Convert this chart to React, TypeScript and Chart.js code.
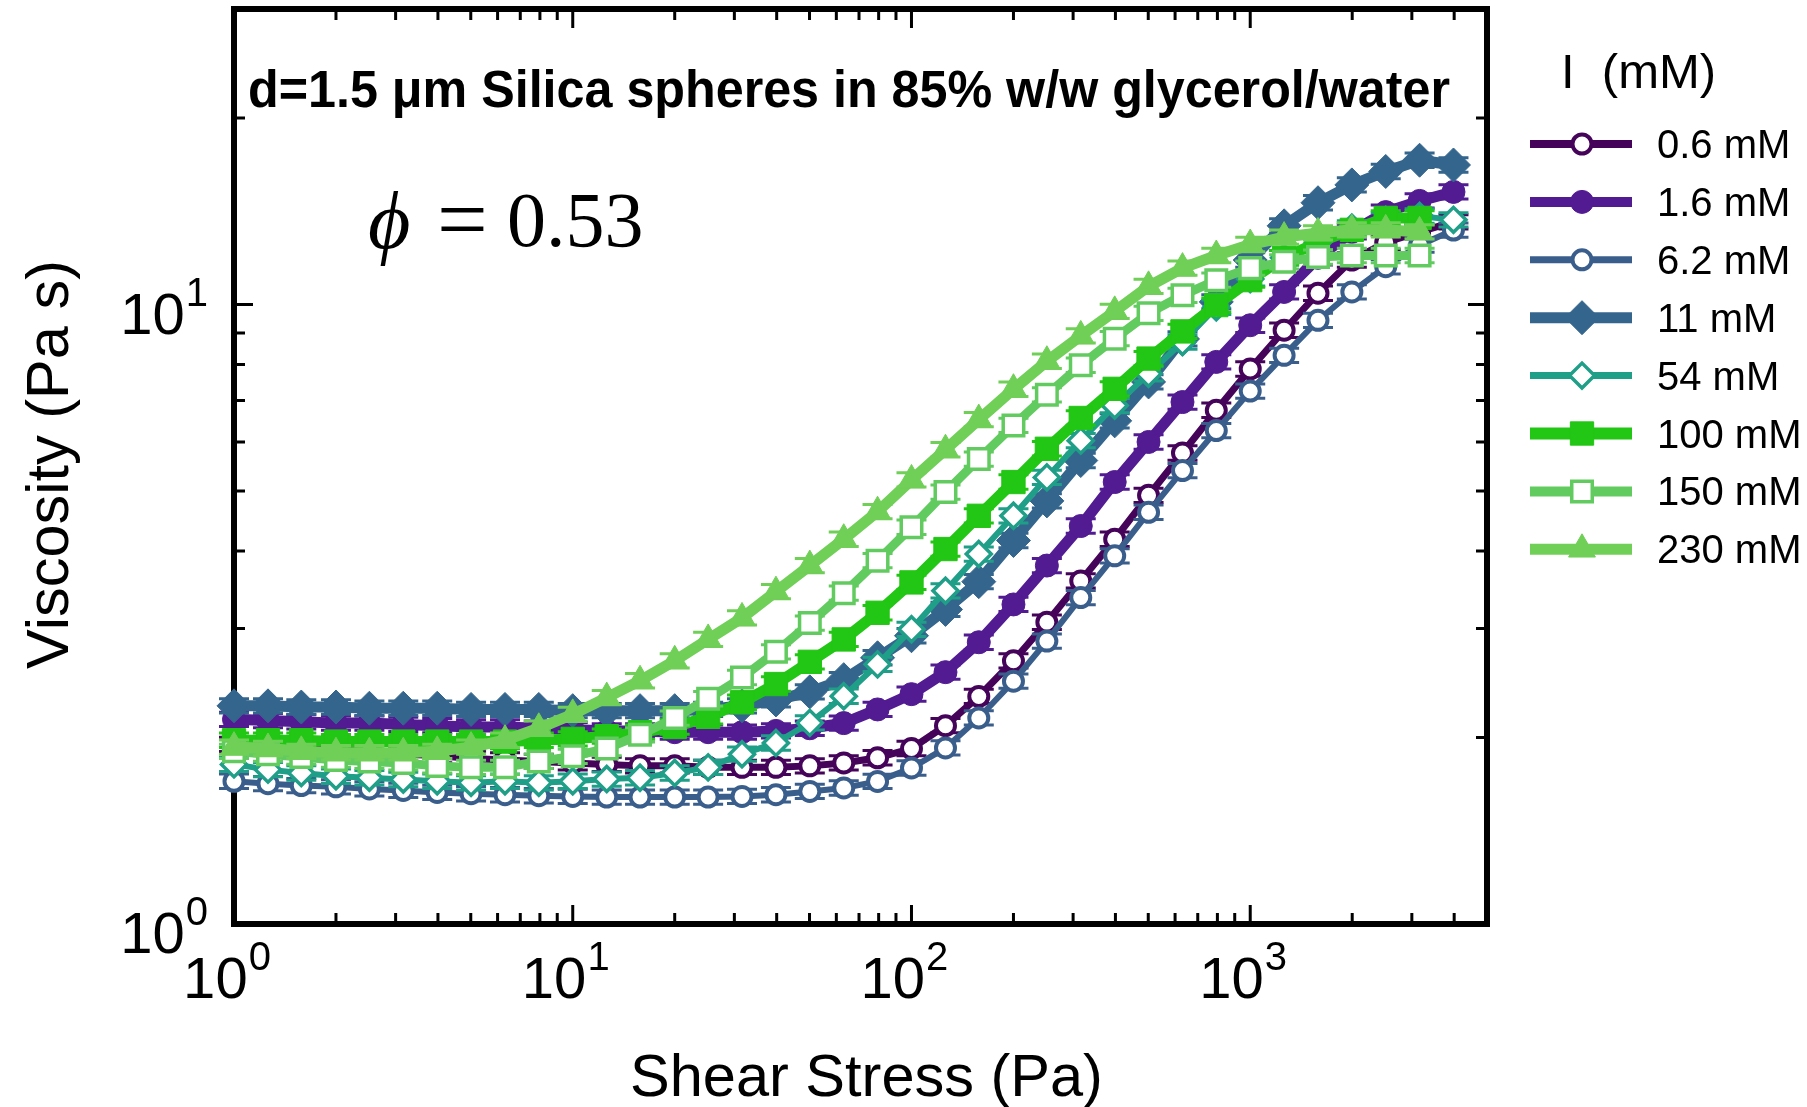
import React, { useEffect, useRef } from 'react';
import { Chart, registerables } from 'chart.js';

Chart.register(...registerables);

// ---------- data ----------
const STRESS_PA = [
  1.0, 1.26, 1.58, 2.0, 2.51, 3.16, 3.98, 5.01, 6.31, 7.94,
  10.0, 12.6, 15.8, 20.0, 25.1, 31.6, 39.8, 50.1, 63.1, 79.4,
  100, 126, 158, 200, 251, 316, 398, 501, 631, 794,
  1000, 1259, 1585, 1995, 2512, 3162, 3981,
];

const ETA_0_6 = [
  1.95, 1.94, 1.93, 1.91, 1.9, 1.88, 1.87, 1.85, 1.84, 1.83,
  1.82, 1.81, 1.8, 1.8, 1.79, 1.79, 1.79, 1.8, 1.82, 1.855,
  1.92, 2.09, 2.33, 2.66, 3.07, 3.58, 4.18, 4.92, 5.76, 6.75,
  7.87, 9.09, 10.43, 11.8, 12.6, 13.1, 13.6,
];
const ETA_1_6 = [
  2.14, 2.13, 2.12, 2.11, 2.11, 2.1, 2.09, 2.08, 2.08, 2.07,
  2.06, 2.05, 2.05, 2.04, 2.04, 2.04, 2.05, 2.07, 2.11, 2.22,
  2.35, 2.55, 2.85, 3.28, 3.79, 4.39, 5.17, 6.0, 6.96, 8.08,
  9.26, 10.48, 11.9, 13.1, 14.1, 14.7, 15.2,
];
const ETA_6_2 = [
  1.7, 1.685, 1.673, 1.665, 1.652, 1.643, 1.631, 1.623, 1.617, 1.611,
  1.607, 1.603, 1.603, 1.603, 1.603, 1.607, 1.617, 1.637, 1.658, 1.699,
  1.786, 1.924, 2.151, 2.466, 2.862, 3.365, 3.929, 4.62, 5.395, 6.26,
  7.25, 8.28, 9.43, 10.48, 11.51, 12.47, 13.19,
];
const ETA_11 = [
  2.25, 2.25, 2.24, 2.24, 2.23, 2.23, 2.23, 2.22, 2.22, 2.22,
  2.21, 2.21, 2.21, 2.21, 2.22, 2.25, 2.3, 2.37, 2.48, 2.69,
  2.92, 3.22, 3.57, 4.16, 4.82, 5.6, 6.49, 7.5, 8.8, 10.1,
  11.8, 13.4, 14.6, 15.6, 16.4, 17.1, 16.8,
];
const ETA_54 = [
  1.81, 1.775, 1.753, 1.732, 1.722, 1.711, 1.7, 1.69, 1.7, 1.69,
  1.7, 1.714, 1.722, 1.753, 1.79, 1.88, 1.96, 2.112, 2.332, 2.625,
  2.99, 3.45, 3.955, 4.56, 5.26, 6.03, 6.87, 7.73, 8.7, 9.9,
  11.0, 11.9, 12.6, 13.3, 13.7, 13.9, 13.7,
];
const ETA_100 = [
  1.98, 1.98, 1.98, 1.97, 1.97, 1.97, 1.97, 1.97, 1.97, 1.98,
  1.99, 2.01, 2.04, 2.08, 2.16, 2.28, 2.44, 2.65, 2.88, 3.18,
  3.56, 4.03, 4.56, 5.17, 5.85, 6.56, 7.31, 8.18, 9.05, 9.98,
  10.95, 11.9, 12.6, 13.2, 13.8, 13.8,
];
const ETA_150 = [
  1.9, 1.88, 1.86, 1.84, 1.83, 1.82, 1.8, 1.79, 1.79, 1.83,
  1.865, 1.92, 2.02, 2.15, 2.31, 2.5, 2.75, 3.06, 3.42, 3.86,
  4.37, 4.98, 5.63, 6.38, 7.15, 7.98, 8.81, 9.68, 10.35, 10.95,
  11.45, 11.72, 11.93, 12.0, 12.0, 12.0,
];
const ETA_230 = [
  1.93, 1.92, 1.9, 1.89, 1.89, 1.89, 1.9, 1.93, 1.98, 2.07,
  2.18, 2.32, 2.47, 2.66, 2.88, 3.12, 3.44, 3.79, 4.18, 4.63,
  5.21, 5.83, 6.52, 7.3, 8.1, 8.9, 9.75, 10.7, 11.45, 12.0,
  12.5, 12.85, 13.05, 13.2, 13.2, 13.1,
];

const SERIES_LABELS = ['0.6 mM', '1.6 mM', '6.2 mM', '11 mM', '54 mM', '100 mM', '150 mM', '230 mM'];
const SERIES_VALUES = [ETA_0_6, ETA_1_6, ETA_6_2, ETA_11, ETA_54, ETA_100, ETA_150, ETA_230];
const RELATIVE_ERROR = [0.027, 0.027, 0.027, 0.027, 0.027, 0.027, 0.027, 0.027];

const X_MIN = 1;
const X_MAX = 5000;
const Y_MIN = 1;
const Y_MAX = 30;
const X_MAJOR_TICKS = [1, 10, 100, 1000];
const X_MINOR_TICKS = [2, 3, 4, 5, 6, 7, 8, 9, 20, 30, 40, 50, 60, 70, 80, 90, 200, 300, 400, 500, 600, 700, 800, 900, 2000, 3000, 4000];
const Y_MAJOR_TICKS = [1, 10];
const Y_MINOR_TICKS = [2, 3, 4, 5, 6, 7, 8, 9, 20];
const X_TICK_EXP = ['0', '1', '2', '3'];
const Y_TICK_EXP = ['0', '1'];

const TITLE_TEXT = 'd=1.5 μm Silica spheres in 85% w/w glycerol/water';
const X_TITLE = 'Shear Stress (Pa)';
const Y_TITLE = 'Viscosity (Pa s)';
const LEGEND_TITLE = 'I  (mM)';

// ---------- styles ----------
type Style = {
  color: string;
  shape: 'circle' | 'rect' | 'rectRot' | 'triangle';
  open: boolean;
  radius: number;
  markerBorder: number;
  line: number;
  legendLine: number;
};
const STYLES: Style[] = [
  { color: '#45045a', shape: 'circle', open: true, radius: 9.5, markerBorder: 4, line: 7, legendLine: 8 },
  { color: '#521b92', shape: 'circle', open: false, radius: 11.5, markerBorder: 1, line: 11, legendLine: 10 },
  { color: '#3a5e8c', shape: 'circle', open: true, radius: 9.5, markerBorder: 4, line: 6, legendLine: 7 },
  { color: '#34658d', shape: 'rectRot', open: false, radius: 17, markerBorder: 1, line: 11, legendLine: 11 },
  { color: '#1f9e88', shape: 'rectRot', open: true, radius: 12.5, markerBorder: 3.5, line: 6, legendLine: 7 },
  { color: '#22c614', shape: 'rect', open: false, radius: 16.5, markerBorder: 1, line: 11, legendLine: 12 },
  { color: '#62cb5f', shape: 'rect', open: true, radius: 14.5, markerBorder: 3.5, line: 9, legendLine: 10 },
  { color: '#70cf57', shape: 'triangle', open: false, radius: 15.5, markerBorder: 1, line: 11, legendLine: 11 },
];

const SANS = "'Liberation Sans', Arial, Helvetica, sans-serif";
const SERIF = "'Liberation Serif', 'DejaVu Serif', serif";

function drawMarker(ctx: CanvasRenderingContext2D, st: Style, x: number, y: number) {
  const r = st.radius;
  ctx.beginPath();
  if (st.shape === 'circle') {
    ctx.arc(x, y, r, 0, Math.PI * 2);
  } else if (st.shape === 'rect') {
    const s = r * Math.SQRT1_2;
    ctx.rect(x - s, y - s, 2 * s, 2 * s);
  } else if (st.shape === 'rectRot') {
    ctx.moveTo(x - r, y);
    ctx.lineTo(x, y - r);
    ctx.lineTo(x + r, y);
    ctx.lineTo(x, y + r);
    ctx.closePath();
  } else {
    for (let i = 0; i < 3; i++) {
      const a = (i * 2 * Math.PI) / 3;
      const px = x + Math.sin(a) * r;
      const py = y - Math.cos(a) * r;
      if (i === 0) ctx.moveTo(px, py);
      else ctx.lineTo(px, py);
    }
    ctx.closePath();
  }
  ctx.fillStyle = st.open ? '#ffffff' : st.color;
  ctx.fill();
  ctx.lineWidth = st.markerBorder;
  ctx.strokeStyle = st.color;
  ctx.stroke();
}

function drawPow(ctx: CanvasRenderingContext2D, exp: string, x: number, baseline: number, align: 'center' | 'right') {
  ctx.font = `58px ${SANS}`;
  const wb = ctx.measureText('10').width;
  ctx.font = `40px ${SANS}`;
  const ws = ctx.measureText(exp).width;
  const total = wb + 1 + ws;
  const start = align === 'center' ? x - total / 2 : x - total;
  ctx.textAlign = 'left';
  ctx.textBaseline = 'alphabetic';
  ctx.fillStyle = '#000';
  ctx.font = `58px ${SANS}`;
  ctx.fillText('10', start, baseline);
  ctx.font = `40px ${SANS}`;
  ctx.fillText(exp, start + wb + 1, baseline - 28);
}

const decorPlugin = {
  id: 'decor',
  beforeDatasetsDraw(chart: any) {
    const { ctx, chartArea: a, scales } = chart;
    const xs = scales.x;
    const ys = scales.y;
    ctx.save();
    ctx.strokeStyle = '#000';
    ctx.lineCap = 'butt';
    ctx.lineWidth = 3;
    const tick = (v: number, len: number, axis: 'x' | 'y') => {
      ctx.beginPath();
      if (axis === 'x') {
        const px = xs.getPixelForValue(v);
        ctx.moveTo(px, a.bottom);
        ctx.lineTo(px, a.bottom - len);
        ctx.moveTo(px, a.top);
        ctx.lineTo(px, a.top + len);
      } else {
        const py = ys.getPixelForValue(v);
        ctx.moveTo(a.left, py);
        ctx.lineTo(a.left + len, py);
        ctx.moveTo(a.right, py);
        ctx.lineTo(a.right - len, py);
      }
      ctx.stroke();
    };
    X_MAJOR_TICKS.forEach((v) => tick(v, 19, 'x'));
    X_MINOR_TICKS.forEach((v) => tick(v, 11, 'x'));
    Y_MAJOR_TICKS.forEach((v) => tick(v, 19, 'y'));
    Y_MINOR_TICKS.forEach((v) => tick(v, 11, 'y'));
    ctx.lineWidth = 6;
    ctx.strokeRect(a.left, a.top, a.right - a.left, a.bottom - a.top);
    ctx.restore();
  },
  beforeDatasetDraw(chart: any, args: any) {
    const { ctx, scales } = chart;
    const ys = scales.y;
    const i = args.index;
    const st = STYLES[i];
    const vals = SERIES_VALUES[i];
    const err = RELATIVE_ERROR[i];
    const meta = args.meta;
    ctx.save();
    ctx.strokeStyle = st.color;
    meta.data.forEach((pt: any, k: number) => {
      const v = vals[k];
      const yt = ys.getPixelForValue(v * (1 + err));
      const yb = ys.getPixelForValue(v / (1 + err));
      ctx.lineWidth = 2.5;
      ctx.beginPath();
      ctx.moveTo(pt.x, yt);
      ctx.lineTo(pt.x, yb);
      ctx.stroke();
      ctx.lineWidth = 3;
      ctx.beginPath();
      ctx.moveTo(pt.x - 15, yt);
      ctx.lineTo(pt.x + 15, yt);
      ctx.moveTo(pt.x - 15, yb);
      ctx.lineTo(pt.x + 15, yb);
      ctx.stroke();
    });
    ctx.restore();
  },
  afterDraw(chart: any) {
    const { ctx, chartArea: a, scales } = chart;
    const xs = scales.x;
    const ys = scales.y;
    ctx.save();
    // tick labels
    X_MAJOR_TICKS.forEach((v, i) => drawPow(ctx, X_TICK_EXP[i], xs.getPixelForValue(v) - 7, a.bottom + 74, 'center'));
    Y_MAJOR_TICKS.forEach((v, i) => drawPow(ctx, Y_TICK_EXP[i], a.left - 26, ys.getPixelForValue(v) + 29, 'right'));

    // axis titles
    ctx.fillStyle = '#000';
    ctx.font = `59.5px ${SANS}`;
    ctx.textAlign = 'center';
    ctx.textBaseline = 'alphabetic';
    ctx.fillText(X_TITLE, (a.left + a.right) / 2 + 6, 1096);
    ctx.save();
    ctx.translate(68, (a.top + a.bottom) / 2 - 2);
    ctx.rotate(-Math.PI / 2);
    ctx.fillText(Y_TITLE, 0, 0);
    ctx.restore();

    // title inside plot
    ctx.font = `bold 51px ${SANS}`;
    ctx.textAlign = 'left';
    const tw = ctx.measureText(TITLE_TEXT).width;
    const sx = Math.max(0.85, Math.min(1.15, 1202 / tw));
    ctx.save();
    ctx.translate(248, 107);
    ctx.scale(sx, 1);
    ctx.fillText(TITLE_TEXT, 0, 0);
    ctx.restore();

    // phi annotation
    ctx.font = `italic 82px ${SERIF}`;
    ctx.fillText('ϕ', 368, 248);
    ctx.font = `90px ${SERIF}`;
    ctx.fillText('=', 437, 250);
    ctx.font = `78px ${SERIF}`;
    ctx.fillText('0.53', 507, 246);

    // legend
    ctx.font = `49px ${SANS}`;
    ctx.fillText(LEGEND_TITLE, 1561, 88);
    STYLES.forEach((st, i) => {
      const ry = 144 + i * 57.9;
      ctx.strokeStyle = st.color;
      ctx.lineWidth = st.legendLine;
      ctx.lineCap = 'butt';
      ctx.beginPath();
      ctx.moveTo(1530, ry);
      ctx.lineTo(1632, ry);
      ctx.stroke();
      drawMarker(ctx, st, 1582, ry);
      ctx.fillStyle = '#000';
      ctx.font = `40px ${SANS}`;
      ctx.textAlign = 'left';
      ctx.fillText(SERIES_LABELS[i], 1657, ry + 14);
    });
    ctx.restore();
  },
};

export default function App() {
  const canvasRef = useRef<HTMLCanvasElement>(null);

  useEffect(() => {
    if (!canvasRef.current) return;
    const datasets = SERIES_VALUES.map((vals, i) => {
      const st = STYLES[i];
      return {
        label: SERIES_LABELS[i],
        data: vals.map((v, k) => ({ x: STRESS_PA[k], y: v })),
        borderColor: st.color,
        borderWidth: st.line,
        backgroundColor: st.color,
        pointStyle: st.shape,
        pointRadius: st.radius,
        pointHoverRadius: st.radius,
        pointBackgroundColor: st.open ? '#ffffff' : st.color,
        pointBorderColor: st.color,
        pointBorderWidth: st.markerBorder,
        tension: 0,
        fill: false,
        clip: false as any,
        order: SERIES_VALUES.length - 1 - i,
      };
    });
    const chart = new Chart(canvasRef.current, {
      type: 'line',
      data: { datasets },
      options: {
        responsive: false,
        devicePixelRatio: 1,
        animation: false,
        events: [],
        layout: { autoPadding: false, padding: { left: 234, right: 320, top: 9, bottom: 183 } },
        plugins: { legend: { display: false }, tooltip: { enabled: false } },
        scales: {
          x: { type: 'logarithmic', min: X_MIN, max: X_MAX, bounds: 'data', display: false },
          y: { type: 'logarithmic', min: Y_MIN, max: Y_MAX, bounds: 'data', display: false },
        },
      } as any,
      plugins: [decorPlugin],
    });
    return () => chart.destroy();
  }, []);

  return (
    <div style={{ position: 'absolute', left: 0, top: 0, width: 1807, height: 1107, background: '#ffffff' }}>
      <canvas ref={canvasRef} width={1807} height={1107} style={{ display: 'block', width: 1807, height: 1107 }} />
    </div>
  );
}
